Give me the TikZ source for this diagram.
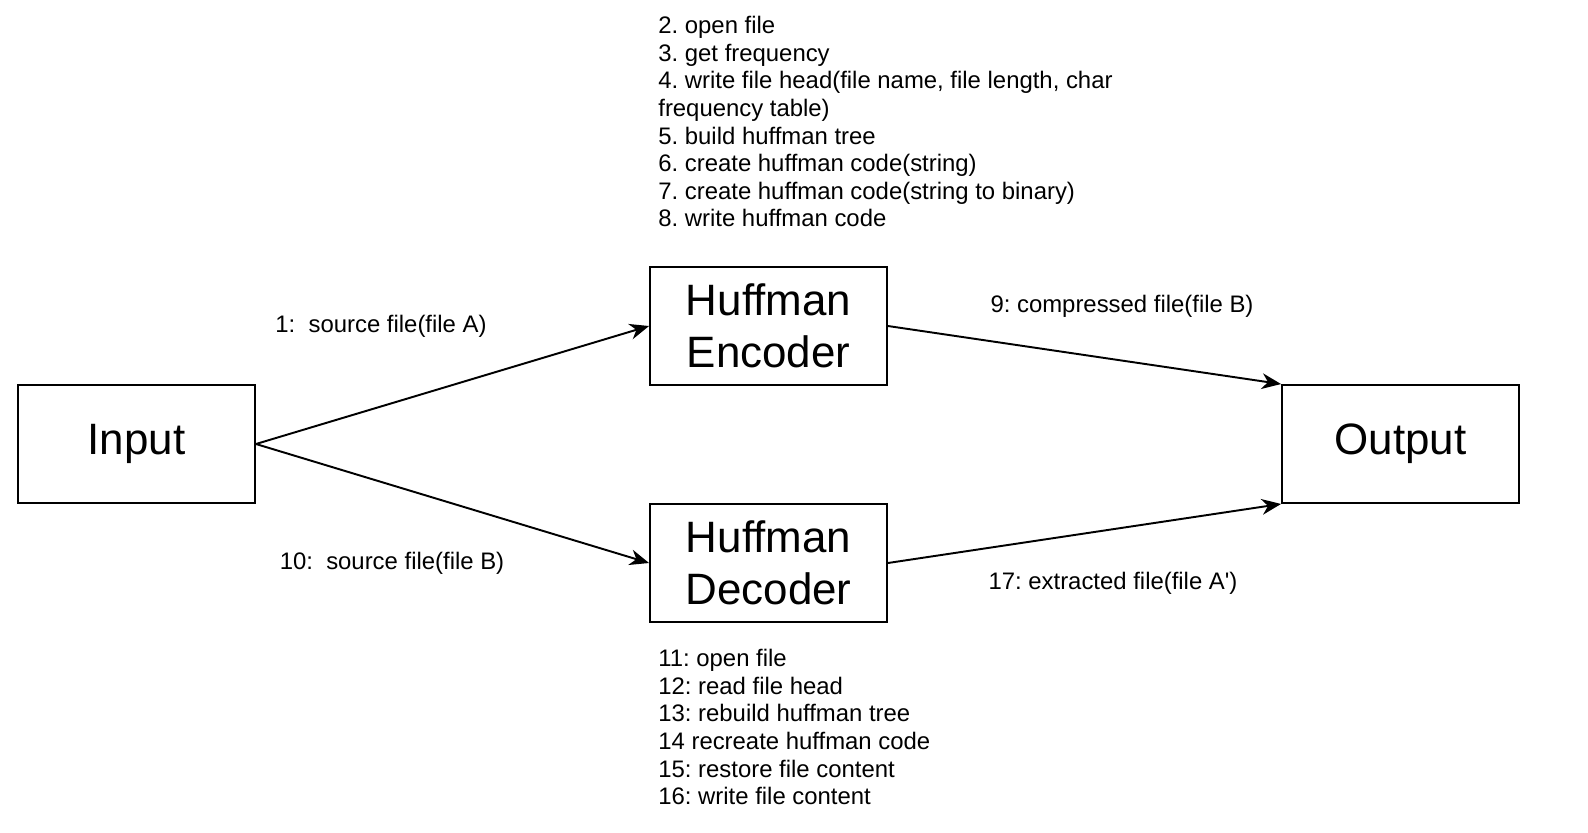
\documentclass[tikz,border=0pt]{standalone}
\usepackage{fontspec}
\setmainfont{Liberation Sans}
\usetikzlibrary{arrows.meta}
\frenchspacing

\tikzset{
  block/.style={draw, line width=1.1pt, minimum width=4.74cm, minimum height=2.36cm,
    align=center, font=\fontsize{25}{29.5}\selectfont},
  flow/.style={-{Stealth[length=11pt,width=9pt,inset=3.5pt]}, line width=1.1pt},
  note/.style={align=left, inner sep=0pt, font=\fontsize{13.6}{15.7}\selectfont},
  lbl/.style={inner sep=0pt, font=\fontsize{13.6}{15.7}\selectfont},
}

\begin{document}
\begin{tikzpicture}[x=0.02cm,y=-0.02cm]
\useasboundingbox (0,0) rectangle (1588,832);

% boxes
\node[block] (input) at (136.5,444) {Input};
\node[block] (encoder) at (768.5,326) {Huffman\\Encoder};
\node[block] (decoder) at (768.5,563) {Huffman\\Decoder};
\node[block] (output) at (1400.5,444) {Output};

% connectors
\draw[flow] (input.east) -- (encoder.west);
\draw[flow] (input.east) -- (decoder.west);
\draw[flow] (encoder.east) -- (output.north west);
\draw[flow] (decoder.east) -- (output.south west);

% labels
\node[lbl] (srcA) at (381,326) {1:~ source file(file A)};
\node[lbl] (srcB) at (392,563) {10:~ source file(file B)};
\node[lbl] (cmpB) at (1122,306) {9: compressed file(file B)};
\node[lbl] (extA) at (1113,583) {17: extracted file(file A\textquotesingle)};

% steps
\node[note, anchor=north west] (encsteps) at (658,16) {2. open file\\
3. get frequency\\
4. write file head(file name, file length, char\\
frequency table)\\
5. build huffman tree\\
6. create huffman code(string)\\
7. create huffman code(string to binary)\\
8. write huffman code};
\node[note, anchor=north west] (decsteps) at (658,649) {11: open file\\
12: read file head\\
13: rebuild huffman tree\\
14 recreate huffman code\\
15: restore file content\\
16: write file content};

\end{tikzpicture}
\end{document}
